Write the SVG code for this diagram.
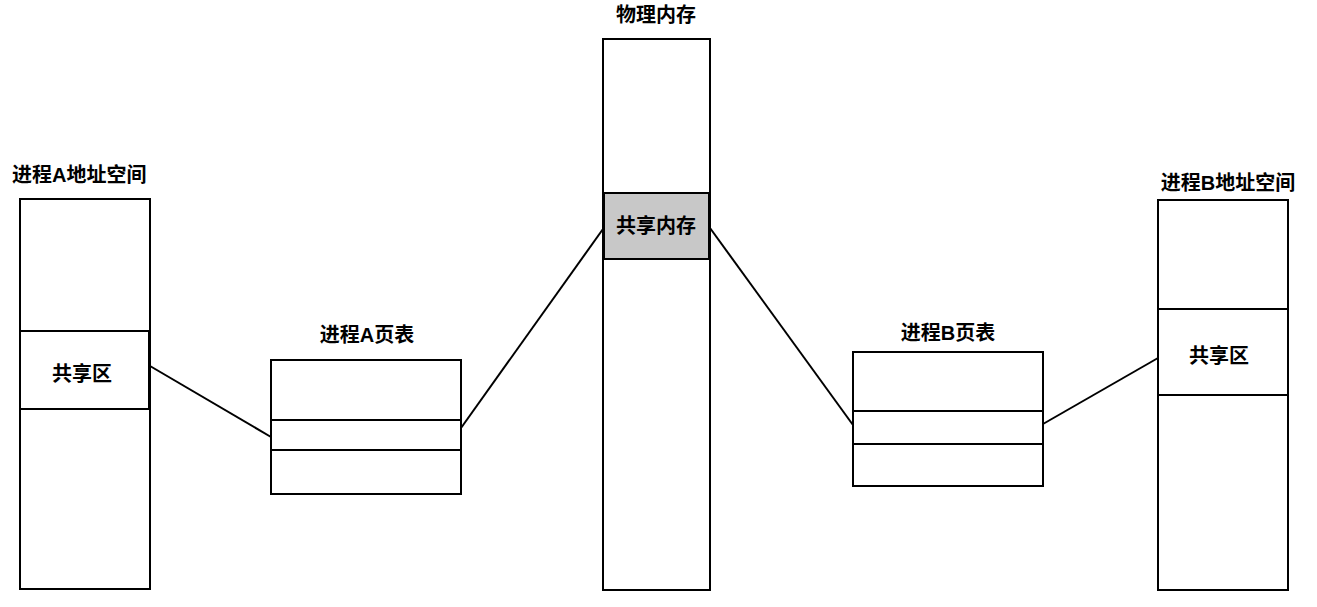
<svg xmlns="http://www.w3.org/2000/svg" width="1317" height="607" viewBox="0 0 1317 607">
<style>
.b{fill:#fff;stroke:#000;stroke-width:2}
.t{font-family:"Liberation Sans","Noto Sans CJK SC",sans-serif;font-weight:bold;font-size:20px;fill:#000}
.c{stroke:#000;stroke-width:2;fill:none}
</style>
<rect width="1317" height="607" fill="#fff"/>
<g id="procA">
<rect class="b" x="20" y="199" width="130" height="390"/>
<rect class="b" x="20" y="331" width="129" height="78"/>
<text class="t" x="12" y="182">进程A地址空间</text>
<text class="t" x="82" y="381" text-anchor="middle">共享区</text>
</g>
<g id="tableA">
<rect class="b" x="271" y="360" width="190" height="134"/>
<line class="c" x1="271" y1="420" x2="461" y2="420"/>
<line class="c" x1="271" y1="450" x2="461" y2="450"/>
<text class="t" x="367" y="342" text-anchor="middle">进程A页表</text>
</g>
<g id="phys">
<rect class="b" x="603" y="39" width="107" height="551"/>
<rect x="604" y="193" width="105" height="66" fill="#c8c8c8" stroke="#000" stroke-width="2"/>
<text class="t" x="656" y="22" text-anchor="middle">物理内存</text>
<text class="t" x="656" y="233" text-anchor="middle" font-size="18">共享内存</text>
</g>
<g id="tableB">
<rect class="b" x="853" y="352" width="190" height="134"/>
<line class="c" x1="853" y1="411" x2="1043" y2="411"/>
<line class="c" x1="853" y1="444" x2="1043" y2="444"/>
<text class="t" x="948" y="340" text-anchor="middle">进程B页表</text>
</g>
<g id="procB">
<rect class="b" x="1158" y="200" width="130" height="390"/>
<rect class="b" x="1158" y="309" width="130" height="86"/>
<text class="t" x="1228" y="190" text-anchor="middle">进程B地址空间</text>
<text class="t" x="1219" y="363" text-anchor="middle">共享区</text>
</g>
<g id="connectors">
<line class="c" x1="150" y1="366" x2="271" y2="437"/>
<line class="c" x1="461" y1="428" x2="603" y2="229"/>
<line class="c" x1="710" y1="228" x2="853" y2="425"/>
<line class="c" x1="1043" y1="424" x2="1158" y2="358"/>
</g>
</svg>
